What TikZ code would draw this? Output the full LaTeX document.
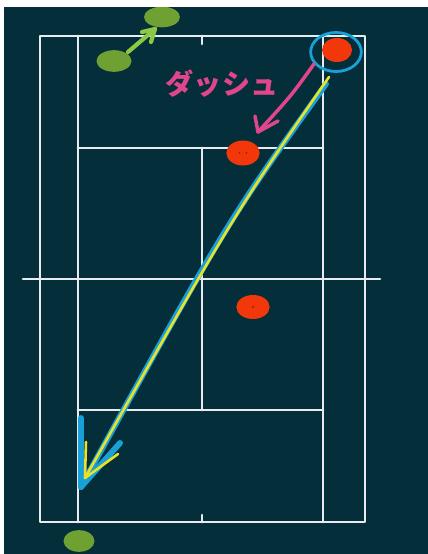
\documentclass[tikz,border=0pt]{standalone}
\usepackage{fontspec}
\newfontfamily\jpfont{Noto Sans CJK JP}
\definecolor{courtbg}{RGB}{3,46,58}
\definecolor{chalk}{RGB}{232,236,240}
\definecolor{ballred}{RGB}{242,55,10}
\definecolor{ballgreen}{RGB}{110,160,50}
\definecolor{movegreen}{RGB}{140,200,70}
\definecolor{shotblue}{RGB}{25,160,215}
\definecolor{shotyellow}{RGB}{235,225,40}
\definecolor{dashpink}{RGB}{225,70,140}
\usetikzlibrary{shapes.geometric}

\begin{document}
\begin{tikzpicture}[
  x=0.03cm, y=-0.03cm,
  line cap=round, line join=round,
  court/.style={draw=chalk,line width=2.4pt},
  redball/.style={ellipse,fill=ballred,inner sep=0pt,minimum width=1cm,minimum height=0.75cm},
  greenball/.style={ellipse,fill=ballgreen,inner sep=0pt,minimum width=1.05cm,minimum height=0.65cm},
  blueshot/.style={draw=shotblue,line width=5pt},
  yellowshot/.style={draw=shotyellow,line width=2.2pt},
  dasharr/.style={draw=dashpink,line width=3pt},
  movearr/.style={draw=movegreen,line width=3.6pt},
]
  % Background
  \useasboundingbox (0,0) rectangle (428,554);
  \fill[white] (0,0) rectangle (428,554);
  \fill[courtbg] (4,7) rectangle (428,554);

  % Court lines
  \draw[court] (40,36) rectangle (365,522);
  \draw[court] (78,36) -- (78,522);
  \draw[court] (323,36) -- (323,522);
  \draw[court] (78,148) -- (323,148);
  \draw[court] (78,410) -- (323,410);
  \draw[court] (202,148) -- (202,410);
  \draw[court] (202,36) -- (202,44);
  \draw[court] (202,522) -- (202,515);
  \draw[court] (23,279) -- (380,279);

  % Green players
  \begin{scope}
    \clip (4,7) rectangle (428,554);
    \node[greenball,minimum width=1.08cm,minimum height=0.62cm] (gTop) at (162,17) {};
  \end{scope}
  \node[greenball] (gMid) at (114,61) {};
  \node[greenball,minimum width=0.93cm] (gBot) at (79,541) {};

  % Red players
  \node[redball,minimum width=0.9cm,minimum height=0.72cm] (rTop) at (337,50) {};
  \node[redball] (rMid) at (243,153) {};
  \node[redball,minimum height=0.72cm] (rLow) at (253,307) {};
  \fill[ballred!60!black] (rLow) circle (1pt);
  \fill[ballred!60!black] ([xshift=-3pt]rMid) circle (0.8pt);
  \fill[ballred!60!black] ([xshift=3pt]rMid) circle (0.8pt);
  \node[ellipse,draw=shotblue,line width=2.4pt,inner sep=0pt,
        minimum width=1.52cm,minimum height=1.17cm] (ring) at (336,52) {};

  % Green move
  \coordinate (moveFrom) at (128,52);
  \coordinate (moveTo) at (155,29);
  \draw[movearr] (moveFrom) -- (moveTo);
  \draw[movearr] (moveTo) -- (151,42);
  \draw[movearr] (moveTo) -- (142,32);

  % Dash
  \coordinate (dashFrom) at (314,64);
  \coordinate (dashTo) at (258,132);
  \draw[dasharr] (dashFrom) .. controls (291,96) .. (dashTo);
  \draw[dasharr] (dashTo) -- (255,116);
  \draw[dasharr] (dashTo) -- (278,121);
  \node[text=dashpink,font=\jpfont\bfseries\fontsize{24}{24}\selectfont] (dashText) at (222,84) {ダッシュ};

  % Shot
  \coordinate (blueFrom) at (326,84);
  \coordinate (blueTip) at (81,487);
  \coordinate (yelFrom) at (329,77);
  \coordinate (yelTip) at (85,478);
  \draw[blueshot] (blueFrom) .. controls (227,222) .. (blueTip);
  \draw[blueshot] (blueTip) -- (81,418);
  \draw[blueshot] (blueTip) -- (120,443);
  \draw[yellowshot] (yelFrom) .. controls (233,216) .. (yelTip);
  \draw[yellowshot] (yelTip) -- (86,442);
  \draw[yellowshot] (yelTip) -- (118,454);
\end{tikzpicture}
\end{document}
